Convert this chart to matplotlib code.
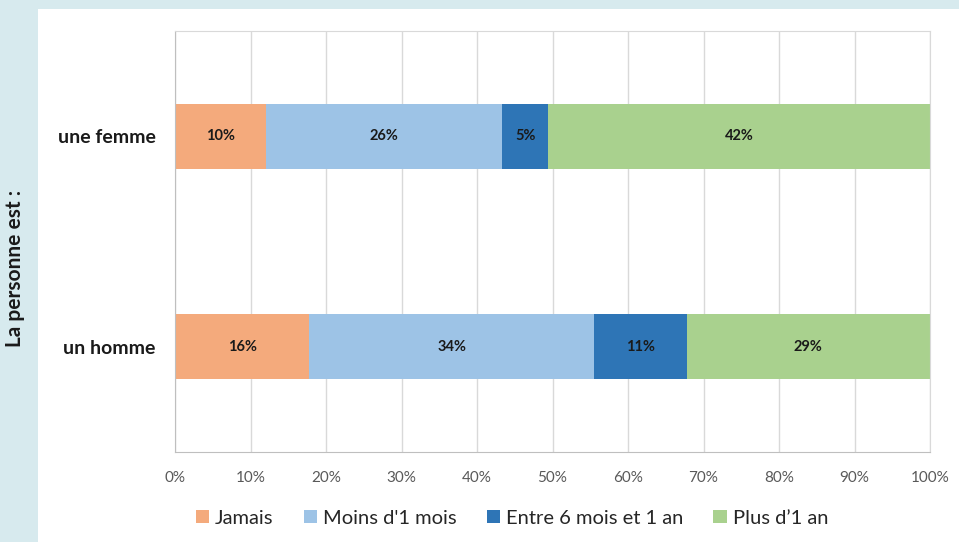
import numpy as np
import matplotlib.pyplot as plt
from matplotlib.patches import Rectangle
from matplotlib.ticker import PercentFormatter

plt.rcParams['font.family'] = ['Lato', 'DejaVu Sans']

categories = ["un homme", "une femme"]
series = ["Jamais", "Moins d'1 mois", "Entre 6 mois et 1 an", "Plus d\u20191 an"]
# valeurs affichées (en %), l'ordre suit categories
jamais = [16, 10]
moins_1_mois = [34, 26]
entre_6_mois_1_an = [11, 5]
plus_1_an = [29, 42]
colors = ["#f4aa7c", "#9dc3e6", "#2e75b6", "#a9d18e"]

values = np.array([jamais, moins_1_mois, entre_6_mois_1_an, plus_1_an], dtype=float)
# barres empilées à 100 %
shares = values / values.sum(axis=0) * 100

fig = plt.figure(figsize=(9.59, 5.42), dpi=100)
fig.patch.set_facecolor("#d7eaee")
fig.patches.append(Rectangle((38 / 959, 0), 1 - 38 / 959, 533 / 542,
                             transform=fig.transFigure, facecolor="white",
                             edgecolor="none", zorder=-10))

ax = fig.add_axes([175 / 959, 90 / 542, 755 / 959, 421 / 542])
ax.set_facecolor("white")

y = np.arange(len(categories))
left = np.zeros(len(categories))
for i, name in enumerate(series):
    ax.barh(y, shares[i], left=left, height=0.31, color=colors[i], label=name, zorder=2)
    for j in range(len(categories)):
        ax.text(left[j] + shares[i][j] / 2, y[j], f"{int(values[i][j])}%",
                ha="center", va="center", fontsize=10.5, fontweight="bold",
                color="#1a1a1a", zorder=3)
    left += shares[i]

ax.set_xlim(0, 100)
ax.set_ylim(-0.5, 1.5)
ax.set_xticks(np.arange(0, 101, 10))
ax.xaxis.set_major_formatter(PercentFormatter(decimals=0))
ax.grid(axis="x", color="#d9d9d9", linewidth=1, zorder=1)
ax.set_axisbelow(True)
ax.set_yticks(y)
ax.set_yticklabels(categories, fontsize=14, fontweight="bold", color="#1a1a1a")
ax.tick_params(axis="y", length=0, pad=14)
ax.tick_params(axis="x", length=0, pad=14, labelsize=11, labelcolor="#595959")
for s in ["top", "right"]:
    ax.spines[s].set_color("#d9d9d9")
ax.spines["left"].set_color("#bfbfbf")
ax.spines["bottom"].set_color("#bfbfbf")

fig.text(15 / 959, 274 / 542, "La personne est :", rotation=90, ha="center", va="center",
         fontsize=15, fontweight="bold", color="#1a1a1a")

fig.legend(loc="center", bbox_to_anchor=(512 / 959, 24 / 542), ncol=4, frameon=False,
           fontsize=14.5, handlelength=0.65, handleheight=0.65, handletextpad=0.3,
           columnspacing=1.5, labelcolor="#262626")

fig.savefig("out.png", dpi=100, facecolor=fig.get_facecolor())
